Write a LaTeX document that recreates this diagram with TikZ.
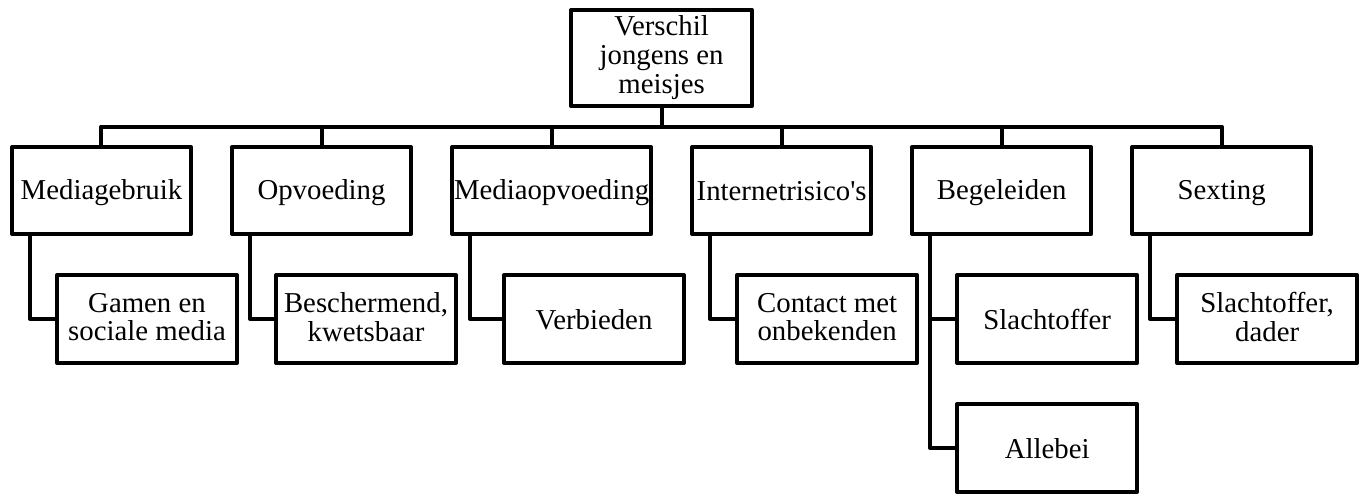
\documentclass[tikz,border=0pt]{standalone}
\usepackage{fontspec}
\setmainfont{Liberation Serif}
\usetikzlibrary{positioning,calc,chains}
% Word-like line strut, so text sits as in the original boxes
\newcommand\wstrut{\rule[-0.14em]{0pt}{1em}}
\newcommand\wstart{\lineskiplimit=-20pt\relax\wstrut}

\begin{document}
\begin{tikzpicture}[%
    start chain=going right,    % Categories run left-to-right
    node distance=18.5pt,       % Global setup of box spacing
    line width=2pt,             % Heavy lines everywhere
    line join=round,
    ]
% -------------------------------------------------
% A few box styles
\tikzset{
  base/.style={draw, align=center, inner sep=1pt,
    font=\fontsize{14.4}{14.25}\selectfont,
    execute at begin node=\wstart, execute at end node=\wstrut},
  topbox/.style={base, minimum width=90.5pt, minimum height=48pt,
    font=\fontsize{14.4}{14.5}\selectfont},
  catbox/.style={base, on chain, minimum width=89.5pt, minimum height=43.5pt},
  subbox/.style={base, minimum width=90pt, minimum height=44pt},
  % Connector line style
  link/.style={draw},
}
% -------------------------------------------------
% Start with the row of categories
\node [catbox] (m1) {Mediagebruik};
\node [catbox] (m2) {Opvoeding};
\node [catbox] (m3) {Mediaopvoeding};
\node [catbox] (m4) {Internetrisico\textquotesingle s};
\node [catbox] (m5) {Begeleiden};
\node [catbox] (m6) {Sexting};
% Root sits centred over the whole row
\coordinate (mid) at ($(m1.north west)!.5!(m6.north east)$);
\node [topbox, above=of mid] (root) {Verschil\\jongens en\\meisjes};
\coordinate (bus) at ($(root.south)!.5!(mid)$);
% -------------------------------------------------
% Sub boxes, shifted right under their category
\node [subbox, below=of m1.south west, anchor=north west, xshift=22.5pt] (s1) {Gamen en\\sociale media};
\node [subbox, below=of m2.south west, anchor=north west, xshift=22pt] (s2) {Beschermend,\\kwetsbaar};
\node [subbox, below=of m3.south west, anchor=north west, xshift=26pt] (s3) {Verbieden};
\node [subbox, below=of m4.south west, anchor=north west, xshift=22.5pt] (s4) {Contact met\\onbekenden};
\node [subbox, below=of m5.south west, anchor=north west, xshift=22.5pt] (s5a) {Slachtoffer};
\node [subbox, below=of s5a] (s5b) {Allebei};
\node [subbox, below=of m6.south west, anchor=north west, xshift=22.5pt] (s6) {Slachtoffer,\\dader};
% -------------------------------------------------
% Connectors
\draw [link] (root.south) -- (root.south |- bus);
\draw [link] (m1.north) -- (m1.north |- bus) -- (m6.north |- bus) -- (m6.north);
\foreach \i in {2,...,5}
  \draw [link] (m\i.north) -- (m\i.north |- bus);
\foreach \p/\c in {m1/s1, m2/s2, m3/s3, m4/s4, m5/s5a, m5/s5b, m6/s6}
  \draw [link] ([xshift=10pt]\p.south west) |- (\c.west);
% -------------------------------------------------
\path [use as bounding box] ($(m1.west |- root.north)+(-5pt,4pt)$) rectangle ++(681pt,-247.5pt);
\end{tikzpicture}
\end{document}
